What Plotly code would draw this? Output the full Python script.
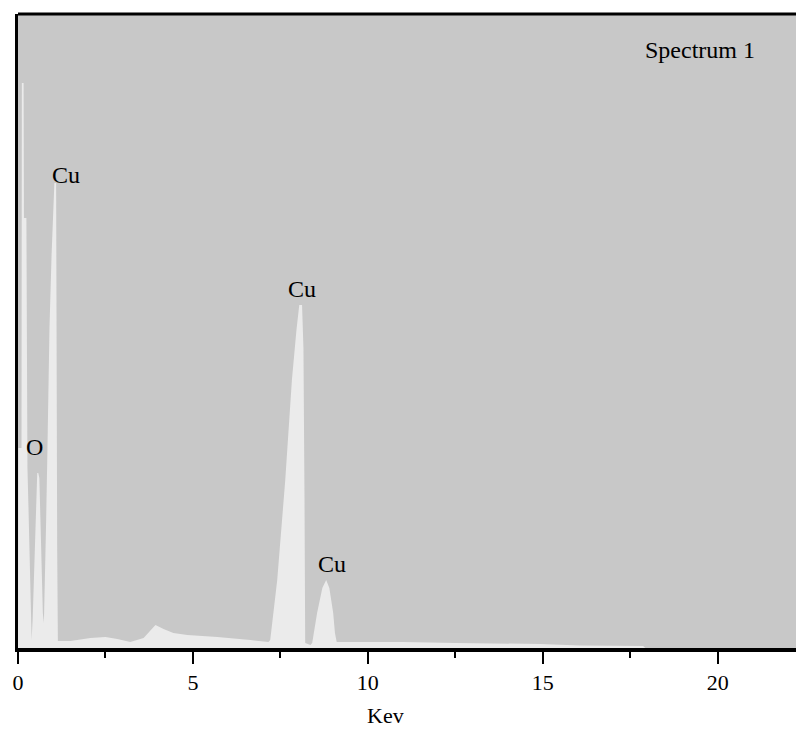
import plotly.graph_objects as go

# EDS spectrum (energy in keV, counts in arbitrary units)
energy_kev = [
    0.00, 0.01, 0.10, 0.11, 0.16, 0.17, 0.24, 0.25, 0.27, 0.30, 0.33, 0.36, 0.39,
    0.42, 0.45, 0.48, 0.51, 0.53, 0.55, 0.58, 0.61, 0.64, 0.67, 0.71, 0.74, 0.77,
    0.80, 0.84, 0.90, 0.96, 1.00, 1.04, 1.09, 1.10, 1.12, 1.14,
    1.50, 2.07, 2.50, 2.84, 3.21, 3.59, 3.79, 3.93, 4.16, 4.44, 4.84, 5.70, 6.64,
    7.16, 7.21, 7.41, 7.64, 7.83, 7.96, 8.04, 8.12, 8.16, 8.19, 8.21, 8.36, 8.41,
    8.55, 8.70, 8.81, 8.90, 9.01, 9.06, 9.11,
    9.79, 11.0, 12.5, 14.93, 16.07, 17.87, 17.93, 22.24,
]
counts = [
    0, 200, 200, 565, 565, 430, 430, 200, 180, 140, 90, 40, 8,
    30, 65, 105, 140, 165, 175, 175, 170, 130, 80, 35, 25, 60,
    120, 195, 320, 393, 430, 465, 465, 300, 100, 7,
    7, 10, 11, 9, 6, 10, 18, 23, 19, 15, 13, 11, 8,
    6, 8, 68, 168, 268, 318, 343, 343, 300, 150, 5, 3, 5,
    35, 60, 68, 60, 35, 15, 6,
    6, 6, 5, 4, 2.5, 2, 0, 0,
]

peak_labels = ["O", "Cu", "Cu", "Cu"]
peak_x = [0.47, 1.37, 8.13, 8.99]
peak_y = [201, 473, 359, 84]

tick_vals = [0, 5, 10, 15, 20]
tick_text = ["0", "5", "10", "15", "20"]

FONT = "Liberation Serif"

fig = go.Figure()
fig.add_trace(go.Scatter(
    x=energy_kev, y=counts, mode="lines", fill="tozeroy",
    fillcolor="#ebebeb", line=dict(width=0, color="#ebebeb"),
    hoverinfo="skip", showlegend=False,
))

for t, x, y in zip(peak_labels, peak_x, peak_y):
    fig.add_annotation(x=x, y=y, text=t, showarrow=False,
                       font=dict(family=FONT, size=24, color="black"),
                       xanchor="center", yanchor="middle")

fig.add_annotation(x=19.5, y=598, text="Spectrum 1", showarrow=False,
                   font=dict(family=FONT, size=24, color="black"),
                   xanchor="center", yanchor="middle")

# x-axis title (centred on the original, wider plot)
fig.add_annotation(x=10.5, xref="x", y=-0.107, yref="paper", text="Kev",
                   showarrow=False, font=dict(family=FONT, size=22, color="black"),
                   xanchor="center", yanchor="middle")

fig.add_shape(type="line", xref="paper", yref="paper", x0=0, x1=1, y0=1, y1=1,
              line=dict(color="black", width=3))

fig.update_layout(
    width=796, height=731,
    margin=dict(l=18, r=0, t=14, b=83),
    paper_bgcolor="white", plot_bgcolor="#c8c8c8",
    showlegend=False,
    xaxis=dict(
        range=[0, 22.24], showgrid=False, zeroline=False,
        showline=True, linecolor="black", linewidth=4,
        ticks="outside", ticklen=12, tickwidth=2, tickcolor="black",
        tickvals=tick_vals, ticktext=tick_text,
        tickfont=dict(family=FONT, size=22, color="black"),
        minor=dict(ticks="outside", ticklen=6, tickwidth=2, tickcolor="black",
                   tickvals=[2.5, 7.5, 12.5, 17.5], showgrid=False),
    ),
    yaxis=dict(
        range=[0, 634], showgrid=False, zeroline=False,
        showline=True, linecolor="black", linewidth=3,
        ticks="", showticklabels=False,
    ),
)

fig.write_html(
    "out.html",
    config={"displayModeBar": False},
    post_script="document.body.style.margin='0';document.body.style.overflow='hidden';",
)
